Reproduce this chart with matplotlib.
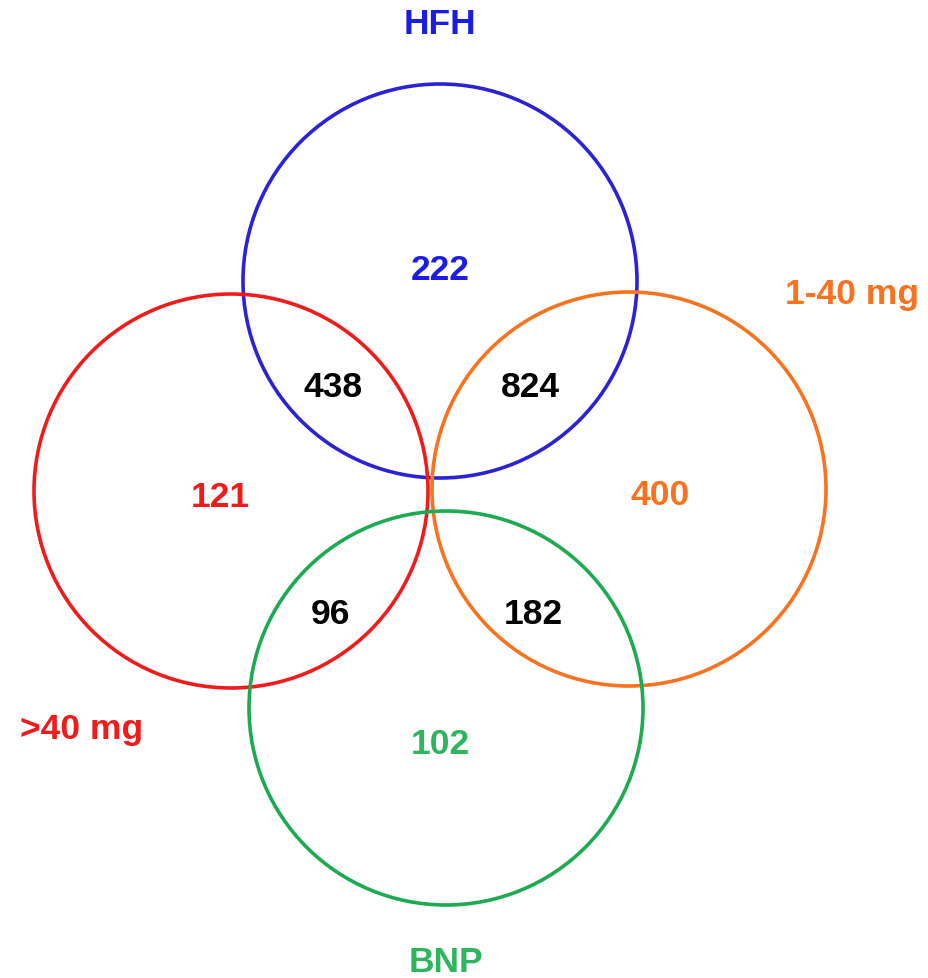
import matplotlib.pyplot as plt
from matplotlib.patches import Circle

# set names, colours and the region counts
sets = ["HFH", ">40 mg", "1-40 mg", "BNP"]
set_colors = ["#2b22d4", "#f01c1c", "#f7731f", "#1daa52"]
label_colors = ["#1c1ce6", "#f01c1c", "#f7731f", "#2db65e"]

regions = ["HFH", ">40 mg", "1-40 mg", "BNP",
           "HFH & >40 mg", "HFH & 1-40 mg", ">40 mg & BNP", "1-40 mg & BNP"]
counts = [222, 121, 400, 102, 438, 824, 96, 182]
count_colors = ["#1c1ce6", "#f01c1c", "#f7731f", "#2db65e",
                "black", "black", "black", "black"]

# layout in pixel coordinates of the figure
centers = [(440, 282), (231, 492), (629, 490), (446, 709)]
radius = 197
name_pos = [(440, 25), (82, 730), (852, 295), (446, 963)]
count_pos = [(440, 271), (220, 498), (660, 496), (440, 745),
             (333, 388), (530, 388), (330, 615), (533, 615)]

fig = plt.figure(figsize=(9.29, 9.79), dpi=100)
ax = fig.add_axes([0, 0, 1, 1])
ax.set_xlim(0, 929)
ax.set_ylim(979, 0)
ax.set_aspect("equal")
ax.axis("off")

font = dict(family=["Liberation Sans", "DejaVu Sans"], fontweight="bold",
            fontsize=25.5, ha="center", va="center")

for c, col in zip(centers, set_colors):
    ax.add_patch(Circle(c, radius, fill=False, edgecolor=col, linewidth=2.6))

for name, (x, y), col in zip(sets, name_pos, label_colors):
    ax.text(x, y, name, color=col, **font)

for n, (x, y), col in zip(counts, count_pos, count_colors):
    ax.text(x, y, str(n), color=col, **font)

plt.savefig("out.png", dpi=100)
